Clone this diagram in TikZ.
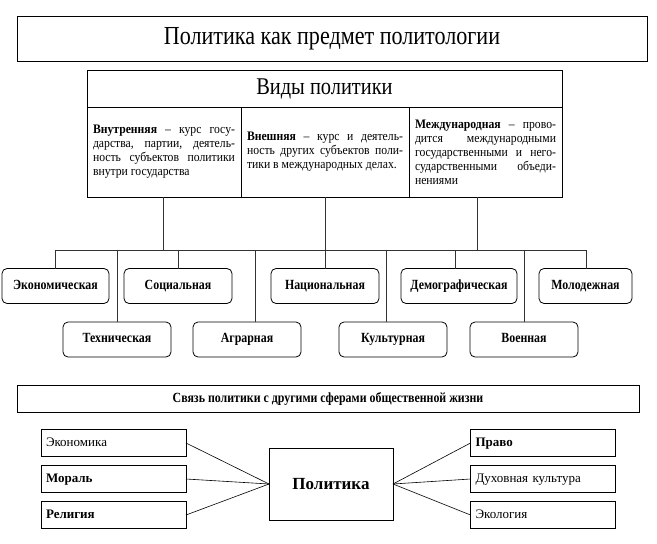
\documentclass[tikz,border=0pt]{standalone}
\usepackage{fontspec}
\setmainfont{Liberation Serif}
\newfontfamily\narrowserif{Liberation Serif}[FakeStretch=0.85]
\newfontfamily\textserif{Liberation Serif}[FakeStretch=0.9]
\usetikzlibrary{calc}

\begin{document}
\begin{tikzpicture}[x=1pt,y=-1pt,
    plainbox/.style={draw=black, line width=0.8pt, inner sep=0pt, outer sep=0pt},
    kindbox/.style={plainbox, rounded corners=5pt, minimum height=35pt, text height=9.5pt, text depth=3pt, font=\narrowserif\bfseries\fontsize{14}{16}\selectfont},
    textcell/.style={plainbox, minimum height=90pt, anchor=north west, align=justify, inner xsep=6pt, inner ysep=3pt, font=\textserif\fontsize{13}{14}\selectfont},
    sphere/.style={plainbox, minimum width=145pt, minimum height=27pt, text width=135pt, inner xsep=5pt, align=left, text height=9pt, text depth=3pt, font=\fontsize{13}{15}\selectfont},
    wire/.style={draw=black!80, line width=0.8pt}]
    \useasboundingbox (0,0) rectangle (657,544);
    
    %%%%% TOP %%%%%
    \node[plainbox, minimum width=630pt, minimum height=45pt, font=\narrowserif\fontsize{26}{28}\selectfont] (title) at (332,38.5) {Политика как предмет политологии};
    
    \node[plainbox, minimum width=475pt, minimum height=37pt, font=\narrowserif\fontsize{24}{26}\selectfont] (kinds) at (324.5,88.5) {Виды политики};
    
    \node[textcell, text width=142pt, minimum width=154pt] (inner) at (87,107) {\textbf{Внутренняя} – курс госу-\linebreak дарства, партии, деятель-\linebreak ность субъектов политики\linebreak внутри государства};
    \node[textcell, text width=156pt, minimum width=168pt] (outer) at (241,107) {\textbf{Внешняя} – курс и деятель-\linebreak ность других субъектов поли-\linebreak тики в международных делах.};
    \node[textcell, text width=141pt, minimum width=153pt] (intl) at (409,107) {\textbf{Международная} – прово-\linebreak дится международными\linebreak государственными и него-\linebreak сударственными объеди-\linebreak нениями};
    
    %%%%% KINDS %%%%%
    \node[kindbox, minimum width=107pt] (econ) at (55.5,286) {Экономическая};
    \node[kindbox, minimum width=108pt] (soc) at (178,286) {Социальная};
    \node[kindbox, minimum width=108pt] (nat) at (325,286) {Национальная};
    \node[kindbox, minimum width=116pt] (demo) at (459,286) {Демографическая};
    \node[kindbox, minimum width=93pt] (youth) at (585.5,286) {Молодежная};
    
    \node[kindbox, minimum width=108pt] (tech) at (117,339.5) {Техническая};
    \node[kindbox, minimum width=108pt] (agr) at (247,339.5) {Аграрная};
    \node[kindbox, minimum width=108pt] (cult) at (393,339.5) {Культурная};
    \node[kindbox, minimum width=108pt] (mil) at (524,339.5) {Военная};
    
    % bus
    \coordinate (b1) at (55,250);
    \coordinate (b2) at (117,250);
    \coordinate (b3) at (178,250);
    \coordinate (b4) at (255,250);
    \coordinate (b5) at (386,250);
    \coordinate (b6) at (455,250);
    \coordinate (b7) at (524,250);
    \coordinate (b8) at (586,250);
    
    \draw[wire] (b1) -- (b8);
    \draw[wire] ([xshift=-1pt]inner.south) -- ([xshift=-1pt]inner.south |- b1);
    \draw[wire] (outer.south) -- (nat.north);
    \draw[wire] ([xshift=-8.5pt]intl.south) -- ([xshift=-8.5pt]intl.south |- b1);
    
    \draw[wire] (b1) -- (b1 |- econ.north);
    \draw[wire] (b2) -- (b2 |- tech.north);
    \draw[wire] (b3) -- (b3 |- soc.north);
    \draw[wire] (b4) -- (b4 |- agr.north);
    \draw[wire] (b5) -- (b5 |- cult.north);
    \draw[wire] (b6) -- (b6 |- demo.north);
    \draw[wire] (b7) -- (b7 |- mil.north);
    \draw[wire] (b8) -- (b8 |- youth.north);
    
    %%%%% BOTTOM %%%%%
    \node[plainbox, minimum width=622pt, minimum height=27pt, font=\narrowserif\bfseries\fontsize{14}{15}\selectfont] (link) at (328,398.5) {Связь политики с другими сферами общественной жизни};
    
    \node[plainbox, minimum width=124pt, minimum height=72pt, font=\bfseries\fontsize{17}{19}\selectfont] (pol) at (331,484) {Политика};
    
    \node[sphere] (eco) at (113.5,443) {Экономика};
    \node[sphere, font=\bfseries\fontsize{13}{15}\selectfont] (moral) at (113.5,479) {Мораль};
    \node[sphere, font=\bfseries\fontsize{13}{15}\selectfont] (relig) at (113.5,515) {Религия};
    
    \node[sphere, font=\bfseries\fontsize{13}{15}\selectfont] (law) at (543,443) {Право};
    \node[sphere] (spirit) at (543,479) {Духовная культура};
    \node[sphere] (ecol) at (543,515) {Экология};
    
    \foreach \s in {eco,moral,relig}
      \draw[line width=0.6pt] (\s.east) -- (pol.west);
    \foreach \s in {law,spirit,ecol}
      \draw[line width=0.6pt] (pol.east) -- (\s.west);
    
\end{tikzpicture}
\end{document}
